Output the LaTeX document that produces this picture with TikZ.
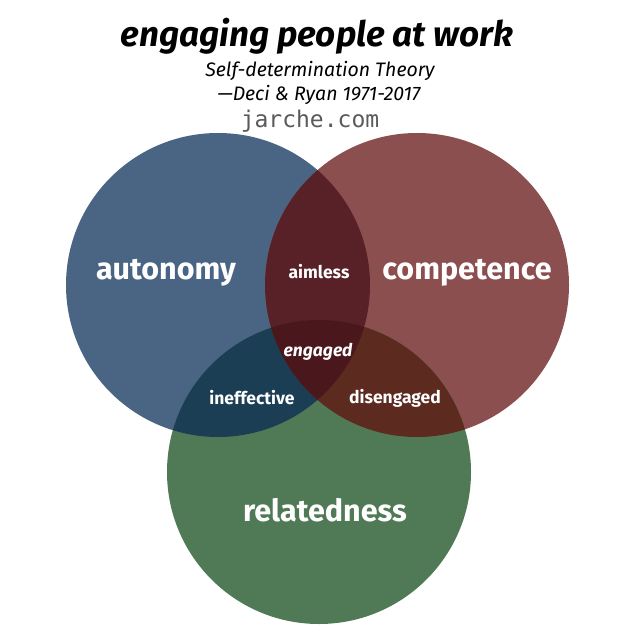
\documentclass[tikz,border=0pt]{standalone}
\usepackage{fontspec}
\setmainfont{Fira Sans}
\newfontfamily\sitemono{DejaVu Sans Mono}
\usetikzlibrary{positioning}

\definecolor{autoblue}{RGB}{74,101,132}
\definecolor{compred}{RGB}{140,79,79}
\definecolor{relgreen}{RGB}{80,122,86}
\definecolor{aimlessred}{RGB}{88,33,39}
\definecolor{ineffblue}{RGB}{27,62,84}
\definecolor{disengbrown}{RGB}{92,42,31}
\definecolor{engagedred}{RGB}{74,23,29}
\definecolor{sitegray}{RGB}{90,90,90}

\tikzset{
  bigset/.style={text=white, font=\bfseries\fontsize{30.5}{34}\selectfont},
  smallset/.style={text=white, font=\bfseries\fontsize{17.5}{20}\selectfont},
  subline/.style={anchor=base, font=\itshape\fontsize{19.5}{22}\selectfont},
  overlap/.style={radius=152pt},
}

\begin{document}
\begin{tikzpicture}[x=1pt,y=-1pt]
	\useasboundingbox[fill=white] (0,0) rectangle (618,636);
	% circle centres
	\coordinate (auto) at (218,285);
	\coordinate (comp) at (417,285);
	\coordinate (rel) at (319,472);
	\fill[autoblue] (auto) circle[overlap];
	\fill[compred] (comp) circle[overlap];
	\fill[relgreen] (rel) circle[overlap];
	% pairwise overlaps
	\begin{scope}
		\clip (auto) circle[overlap];
		\fill[aimlessred] (comp) circle[overlap];
		\fill[ineffblue] (rel) circle[overlap];
	\end{scope}
	\begin{scope}
		\clip (comp) circle[overlap];
		\fill[disengbrown] (rel) circle[overlap];
	\end{scope}
	% all three
	\begin{scope}
		\clip (auto) circle[overlap];
		\clip (comp) circle[overlap];
		\fill[engagedred] (rel) circle[overlap];
	\end{scope}
	% titles
	\node[anchor=base, font=\bfseries\itshape\fontsize{35}{40}\selectfont] (title) at (317,47) {engaging people at work};
	\node[subline] (theory) at (320,77) {Self-determination Theory};
	\node[subline] (authors) at (319,101) {—Deci \& Ryan 1971-2017};
	\node[anchor=base, font=\sitemono\fontsize{23}{26}\selectfont, text=sitegray] (site) at (310,128) {jarche.com};
	% labels
	\node[bigset] (autonomy) at (166,273) {autonomy};
	\node[bigset] (competence) at (467,273) {competence};
	\node[bigset] (relatedness) at (325,510) {relatedness};
	\node[smallset] (aimless) at (319,272) {aimless};
	\node[smallset, font=\bfseries\itshape\fontsize{17.5}{20}\selectfont] (engaged) at (318,352) {engaged};
	\node[smallset] (ineffective) at (252,398) {ineffective};
	\node[smallset] (disengaged) at (395,398) {disengaged};
\end{tikzpicture}
\end{document}
